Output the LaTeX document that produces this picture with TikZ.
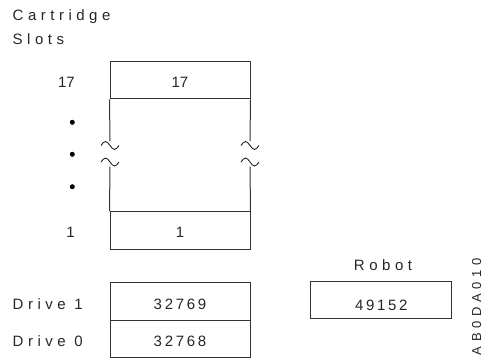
\documentclass[tikz,border=0pt]{standalone}
\usepackage{fontspec}
\setmainfont[LetterSpace=30]{Liberation Sans}
\newfontfamily\numfont[LetterSpace=18]{Liberation Sans}
\newfontfamily\plainfont{Liberation Sans}
\newfontfamily\tagfont[LetterSpace=36]{Liberation Sans}
\begin{document}
\begin{tikzpicture}[x=1pt,y=-1pt,
  every node/.style={font=\fontsize{15}{17}\selectfont, text=black!85},
  cell/.style={draw=black!80, line width=1pt, minimum width=140pt, minimum height=37.5pt,
    inner sep=0pt, text height=15pt, text depth=0pt, font=\numfont\fontsize{15}{17}\selectfont},
  side/.style={draw=black!80, line width=1pt},
  brk/.style={draw=black!85, line width=0.9pt},
  lbl/.style={anchor=base west, inner sep=0pt},
  num/.style={anchor=base east, inner sep=0pt, font=\plainfont\fontsize{15}{17}\selectfont},
  dot/.style={circle, fill=black, inner sep=0pt, minimum size=5pt}]
\useasboundingbox (0,0) rectangle (485,360);

% slot column
\node[cell, font=\plainfont\fontsize{15}{17}\selectfont] (s17) at (180,80.2) {17};
\node[cell, font=\plainfont\fontsize{15}{17}\selectfont] (s1) at (180,230.3) {1};
% break positions on the column sides
\coordinate (lt) at (110,141);
\coordinate (lb) at (110,166.5);
\coordinate (rt) at (250,141);
\coordinate (rb) at (250,166.5);
\draw[side] (s17.south west) -- (lt);
\draw[side] (lb) -- (s1.north west);
\draw[side] (s17.south east) -- (rt);
\draw[side] (rb) -- (s1.north east);
% break marks
\foreach \x in {110,250}{
  \foreach \y in {145.5,162}{
    \draw[brk] (\x-9,\y) sin (\x-4.5,\y-4) cos (\x,\y) sin (\x+4.5,\y+4) cos (\x+9,\y);
  }
}

% drives and robot
\node[cell] (d1) at (180,301.5) {32769};
\node[cell] (d0) at (180,339) {32768};
\node[cell, minimum width=141pt, minimum height=36.6pt, text height=20pt] (rob) at (381.3,300) {49152};

% labels
\node[lbl] (title1) at (12.5,20.7) {Cartridge};
\node[lbl] (title2) at (12.5,44) {Slots};
\node[num] (n17) at (75,87.7) {17};
\node[dot] (p1) at (72.3,122.3) {};
\node[dot] (p2) at (72.3,154.3) {};
\node[dot] (p3) at (72.3,186.7) {};
\node[num] (n1) at (75,237.7) {1};
\node[lbl] (dl1) at (12.5,309) {Drive 1};
\node[lbl] (dl0) at (12.5,346.7) {Drive 0};
\node[anchor=base, inner sep=0pt] (rl) at (383,270.7) {Robot};
\node[rotate=90, inner sep=0pt, font=\tagfont\fontsize{13}{15}\selectfont] (tag) at (476.7,306.5) {AB0DA010};
\end{tikzpicture}
\end{document}
